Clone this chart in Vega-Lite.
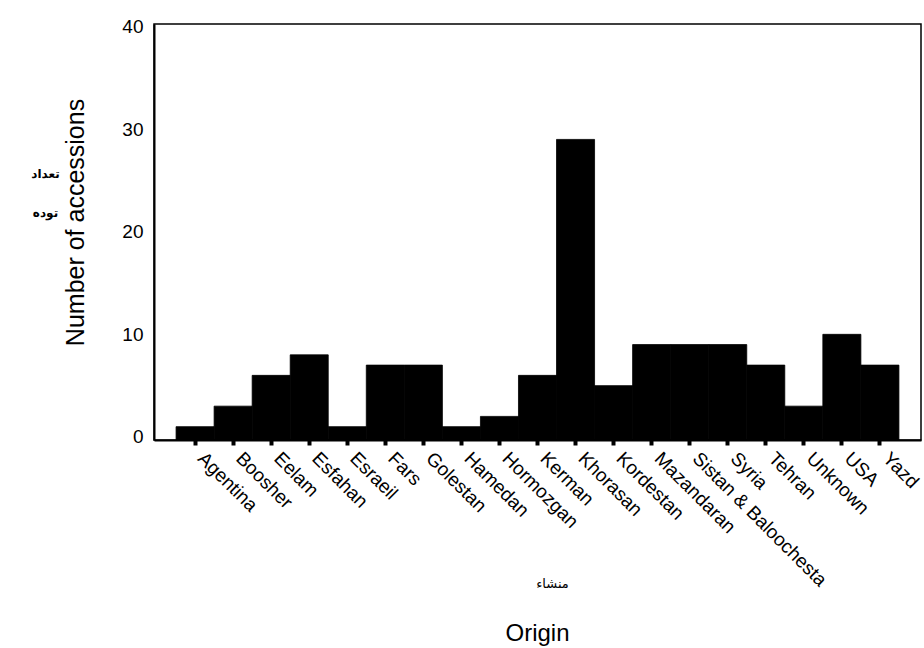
{
  "$schema": "https://vega.github.io/schema/vega-lite/v6.json",
  "width": 767,
  "height": 416,
  "autosize": {"type": "none"},
  "padding": {"left": 154, "top": 24, "right": 3, "bottom": 208},
  "background": "white",
  "config": {"view": {"stroke": "black", "strokeWidth": 1.5}, "font": "Liberation Sans"},
  "data": {"values": [
    {"origin": "Agentina", "count": 1},
    {"origin": "Boosher", "count": 3},
    {"origin": "Eelam", "count": 6},
    {"origin": "Esfahan", "count": 8},
    {"origin": "Esraeil", "count": 1},
    {"origin": "Fars", "count": 7},
    {"origin": "Golestan", "count": 7},
    {"origin": "Hamedan", "count": 1},
    {"origin": "Hormozgan", "count": 2},
    {"origin": "Kerman", "count": 6},
    {"origin": "Khorasan", "count": 29},
    {"origin": "Kordestan", "count": 5},
    {"origin": "Mazandaran", "count": 9},
    {"origin": "Sistan & Baloochesta", "count": 9},
    {"origin": "Syria", "count": 9},
    {"origin": "Tehran", "count": 7},
    {"origin": "Unknown", "count": 3},
    {"origin": "USA", "count": 10},
    {"origin": "Yazd", "count": 7}
  ]},
  "title": {"text": "Origin", "orient": "bottom", "anchor": "middle", "frame": "group", "fontSize": 24, "fontWeight": "normal", "font": "Liberation Sans", "color": "black", "offset": 32},
  "layer": [
    {
      "mark": {"type": "bar", "color": "black", "stroke": "black", "strokeWidth": 0.8},
      "encoding": {
        "x": {"field": "origin", "type": "nominal", "sort": null,
          "scale": {"paddingInner": 0, "paddingOuter": 0.58},
          "axis": {"title": "منشاء", "titleFont": "DejaVu Sans", "titleFontSize": 13, "titleFontWeight": "normal", "titleColor": "black",
            "titleX": 398, "titleY": 143, "titleAlign": "center", "titleBaseline": "middle",
            "labelAngle": 45, "labelAlign": "left", "labelBaseline": "middle", "labelFontSize": 19, "labelColor": "black",
            "labelPadding": 10, "labelOffset": 6, "labelOverlap": false, "labelLimit": 0,
            "tickSize": 5, "tickWidth": 4, "tickColor": "black", "domainColor": "black", "domainWidth": 2, "grid": false}},
        "y": {"field": "count", "type": "quantitative",
          "scale": {"domain": [-0.3, 40.25], "nice": false, "zero": false},
          "axis": {"values": [0, 10, 20, 30, 40], "ticks": false, "labelFontSize": 19, "labelColor": "black", "labelPadding": 11,
            "domainColor": "black", "domainWidth": 2, "grid": false,
            "title": "Number of accessions", "titleFontSize": 25, "titleFontWeight": "normal", "titleColor": "black",
            "titleAngle": 270, "titleAlign": "center", "titleBaseline": "bottom", "titleX": -66, "titleY": 198}},
        "y2": {"datum": -0.3}
      }
    },
    {
      "mark": {"type": "bar", "opacity": 0},
      "encoding": {
        "x": {"field": "origin", "type": "nominal", "sort": null},
        "y": {"field": "count", "type": "quantitative",
          "scale": {"domain": [-0.3, 40.25], "nice": false, "zero": false},
          "axis": {"orient": "left", "domain": false, "ticks": false, "labels": false, "grid": false,
            "title": ["تعداد", "توده"], "titleAngle": 0, "titleX": -109, "titleY": 149, "titleAlign": "center", "titleBaseline": "middle",
            "titleFont": "DejaVu Sans", "titleFontSize": 12, "titleFontWeight": "bold", "titleColor": "black", "titleLineHeight": 39}}
      }
    }
  ],
  "resolve": {"scale": {"y": "independent"}, "axis": {"y": "independent"}}
}
